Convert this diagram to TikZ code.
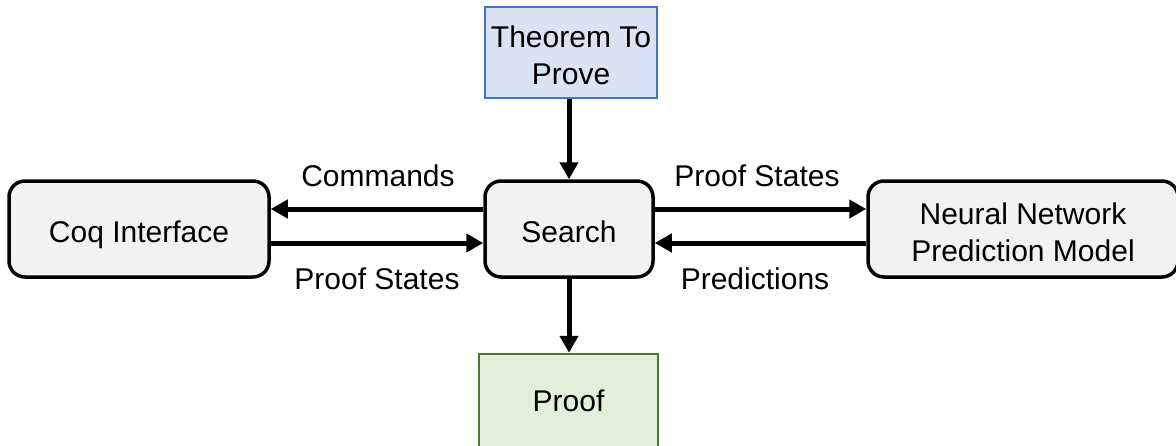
\documentclass[tikz,border=0pt]{standalone}
\usepackage{fontspec}
\setmainfont{Liberation Sans}
\usetikzlibrary{arrows.meta}
\definecolor{bluefill}{HTML}{DAE3F3}
\definecolor{blueline}{HTML}{4472C4}
\definecolor{greenfill}{HTML}{E2F0D9}
\definecolor{greenline}{HTML}{4A7A2C}
\definecolor{grayfill}{HTML}{F2F2F2}
\begin{document}
\begin{tikzpicture}[x=1pt,y=-1pt,
  every node/.style={font=\fontsize{30}{37}\selectfont, inner sep=0pt},
  oneline/.style={text height=27pt, text depth=1pt},
  twoline/.style={text height=66pt, text depth=2pt},
  graybox/.style={draw=black, line width=3.5pt, fill=grayfill, rounded corners=16pt, align=center},
  conn/.style={line width=5pt, -{Triangle[length=17pt,width=18pt]}},
  lbl/.style={}
]
\useasboundingbox (0,0) rectangle (1176,445);
\node[draw=blueline, line width=2.2pt, fill=bluefill, minimum width=172pt, minimum height=91pt, align=center, twoline] (thm) at (571,52.5) {Theorem To\\Prove};
\node[graybox, oneline, minimum width=168pt, minimum height=96pt] (search) at (569,229) {Search};
\node[graybox, oneline, minimum width=260pt, minimum height=96pt] (coq) at (139,229) {Coq Interface};
\node[graybox, twoline, minimum width=310pt, minimum height=96pt] (nn) at (1023,229) {Neural Network\\Prediction Model};
\node[draw=greenline, line width=2.5pt, fill=greenfill, minimum width=179pt, minimum height=94pt] (proof) at (568.5,401) {Proof};

\draw[conn] (thm.south -| search.north) -- (search.north);
\draw[conn] (search.south) -- (search.south |- proof.north);
\draw[conn] ([yshift=20pt]search.west) -- ([yshift=20pt]coq.east);
\draw[conn] ([yshift=-14pt]coq.east) -- ([yshift=-14pt]search.west);
\draw[conn] ([yshift=20pt]search.east) -- ([yshift=20pt]nn.west);
\draw[conn] ([yshift=-14pt]nn.west) -- ([yshift=-14pt]search.east);

\node[lbl] (l1) at (378,176) {Commands};
\node[lbl] (l2) at (377,279) {Proof States};
\node[lbl] (l3) at (757,176) {Proof States};
\node[lbl] (l4) at (755,279) {Predictions};
\end{tikzpicture}
\end{document}
